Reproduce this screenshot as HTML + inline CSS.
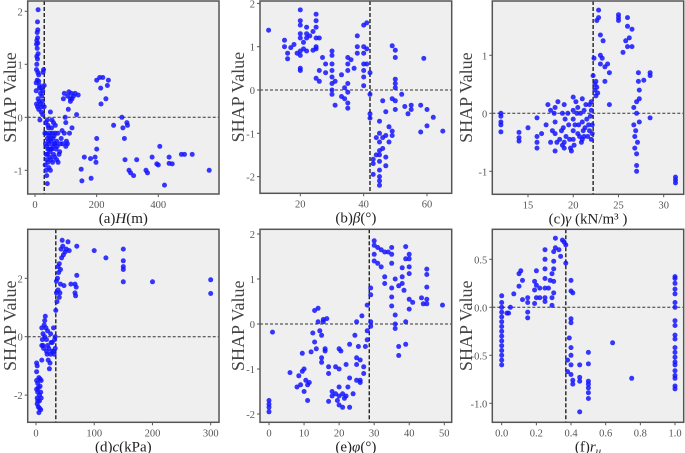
<!DOCTYPE html>
<html><head><meta charset="utf-8"><style>
body{margin:0;background:#fff}
svg{display:block;font-family:"Liberation Serif",serif}
</style></head><body>
<svg id="chart" width="685" height="453" viewBox="0 0 685 453" xmlns="http://www.w3.org/2000/svg"></svg>
<script>
// ---- data (feature value, SHAP value) ----
const dataH=[[10,2.03],[8,1.8],[9,1.65],[7,1.6],[8,1.5],[6,1.45],[9,1.4],[5,1.38],[7,1.3],[10,1.2],[6,1.15],[8,1.1],[5,0.9],[9,0.85],[7,0.7],[4,0.65],[12,0.68],[15,0.6],[20,0.55],[25,0.5],[18,0.45],[22,0.4],[10,0.35],[14,0.3],[5,0.25],[8,0.2],[12,0.15],[20,0.1],[25,0.05],[16,-0.05],[28,0.9],[26,0.85],[30,0.6],[24,0.3],[30,0.2],[35,-0.1],[32,-0.3],[34,-0.5],[36,-0.7],[33,-0.9],[38,-1.1],[40,-1.25],[40,-0.4],[42,-0.6],[45,-0.5],[48,-0.3],[50,0.1],[52,-0.8],[55,-0.6],[44,-0.2],[58,-0.4],[60,-0.7],[62,-0.5],[65,-0.3],[68,-0.6],[70,-0.8],[72,-0.55],[75,-0.85],[78,-0.7],[55,-0.05],[60,-0.1],[66,-0.15],[45,-0.95],[50,-1.0],[38,-0.8],[46,-0.35],[52,-0.45],[80,-0.65],[85,-0.4],[90,-0.5],[92,0.35],[95,0.45],[100,-0.1],[100,-0.55],[105,-0.5],[108,0.15],[110,0.48],[112,-0.3],[115,0.35],[118,0.45],[120,-0.2],[125,0.4],[130,0.45],[135,0.05],[140,0.42],[95,-0.3],[88,-0.25],[115,0.3],[150,-0.98],[152,-1.2],[160,-0.75],[180,-0.78],[182,-1.15],[195,-0.75],[198,-0.85],[200,-0.4],[200,-0.6],[200,0.7],[210,0.75],[213,0.55],[214,0.25],[220,0.75],[230,0.35],[235,0.6],[238,0.7],[255,-0.15],[282,0],[285,-0.2],[290,-0.4],[292,-0.8],[298,-0.1],[300,-0.15],[305,-1.0],[310,-1.05],[320,-1.1],[330,-0.8],[360,-1.0],[365,-1.05],[380,-0.75],[395,-0.88],[400,-0.9],[405,-0.55],[420,-1.28],[435,-0.75],[435,-0.87],[445,-0.88],[475,-0.7],[485,-0.7],[510,-0.7],[565,-1.0],[6,1.0],[4,0.5],[12,0.8],[40,-0.7],[44,-0.45],[48,-0.65],[36,-0.3],[42,-0.15],[56,-0.3],[64,-0.75],[38,-0.55],[42,-0.85],[46,-0.6],[50,-0.4],[54,-0.2],[58,-0.55],[62,-0.35],[66,-0.5],[70,-0.45],[40,-0.05],[36,-1.0],[48,-0.75],[52,-0.6],[57,-0.85],[74,-0.3],[82,-0.5],[102,-0.45],[98,0.0],[106,0.4],[120,0.35],[18,0.25],[22,0.2],[14,0.55]];
const dataBeta=[[10,1.38],[15,1.15],[15,1.0],[16,0.85],[16,0.72],[17,0.98],[18,1.05],[19,0.85],[20,1.85],[20,1.6],[20,1.5],[20,1.3],[20,1.2],[20,0.9],[20,0.8],[20,0.5],[20,0.45],[21,0.95],[21,1.1],[22,1.45],[22,1.3],[22,1.2],[22,0.9],[23,1.25],[24,1.35],[24,0.92],[25,1.75],[25,1.6],[25,1.45],[25,1.2],[25,1.0],[25,0.95],[25,0.27],[26,0.45],[26,0.2],[26,1.2],[27,0.75],[28,0.6],[28,0.4],[30,0.9],[30,0.8],[30,0.6],[30,0.45],[30,0.3],[30,0.15],[30,0],[30,-0.1],[31,0.2],[31,-0.35],[33,0.35],[33,-0.15],[34,0.05],[34,-0.2],[35,0.75],[35,0.6],[35,0.45],[35,0.15],[35,-0.05],[35,-0.3],[35,-0.42],[36,0.7],[37,0.5],[38,1.25],[38,1.0],[38,0.85],[40,1.5],[40,1.0],[40,0.85],[40,0.6],[40,0.45],[40,0.3],[40,0.1],[41,1.55],[41,0.95],[41,0.6],[42,0.4],[42,-0.1],[42,-0.55],[42,-0.65],[43,-1.6],[43,-1.7],[43,-1.95],[44,-1.5],[44,-1.1],[45,-0.72],[45,-1.0],[45,-1.2],[45,-1.4],[45,-1.5],[45,-1.65],[45,-1.85],[45,-2.0],[45,-2.1],[45,-2.2],[46,-1.1],[46,-1.35],[46,-0.25],[47,-0.5],[47,-1.05],[47,-1.55],[47,-1.75],[48,-0.85],[48,-1.2],[49,1.02],[49,-0.95],[49,-1.05],[49,-0.2],[50,0.92],[50,0.75],[50,0.25],[50,0.15],[50,0.05],[50,-0.25],[50,-0.45],[52,-0.1],[53,-0.38],[54,-0.55],[55,-0.35],[55,-0.45],[58,-0.35],[58,-0.97],[59,0.73],[60,-0.45],[60,-0.83],[62,-0.63],[65,-0.95]];
const dataGamma=[[12,0],[12,-0.05],[12,-0.15],[12,-0.2],[12,-0.32],[14,-0.33],[14,-0.42],[14,-0.48],[15,-0.25],[16,-0.08],[16,-0.4],[16,-0.5],[16,-0.6],[16.5,-0.35],[17,-0.2],[17.2,0.15],[17.5,0.05],[17.5,-0.5],[17.7,-0.3],[18,0.1],[18,-0.15],[18,-0.35],[18,-0.65],[18.3,0.2],[18.5,-0.45],[18.7,-0.3],[18.8,-0.55],[18.8,0],[19,0.15],[19,-0.5],[19,-0.6],[19.2,-0.4],[19.5,-0.2],[19.7,-0.6],[19.8,-0.65],[20,0.28],[20,0.05],[20,-0.1],[20,-0.3],[20,-0.45],[20.2,-0.2],[20.3,0.2],[20.5,-0.35],[20.5,0.1],[20.7,-0.4],[20.8,0],[21,0.25],[21,-0.15],[21,-0.45],[21.2,0.05],[21.3,-0.25],[21.5,-0.1],[21.6,-0.4],[21.8,0.15],[21.8,-0.3],[22,0.05],[22,-0.45],[22,0.2],[22.1,-0.2],[22.2,0.65],[22.3,0.95],[22.4,0.5],[22.4,0.4],[22.5,0.3],[22.5,0.55],[22.6,1.6],[22.8,1.65],[22.8,1.78],[23,1.35],[23,1.0],[23,0.85],[23.2,0.95],[23.3,1.25],[23.5,0.8],[23.5,0.55],[23.8,0.85],[24,0.15],[24,0.7],[25,1.7],[25,1.65],[25,1.6],[25.5,1.05],[25.8,1.25],[26,1.65],[26,1.5],[26,1.15],[26.2,1.3],[26.5,1.45],[26.5,1.15],[26.7,0.1],[26.7,-0.2],[26.8,-0.4],[26.8,-0.6],[27,0.2],[27,0],[27,-0.7],[27,-1.0],[27,-0.9],[27.2,0.7],[27.2,0.55],[27.3,0.4],[27.3,0.25],[27.3,-0.15],[27.8,0.57],[28.5,0.7],[28.5,0.65],[28.5,-0.08],[31.3,-1.1],[31.3,-1.15],[31.3,-1.2],[18.2,-0.5],[18.9,-0.25],[19.4,0.0],[19.6,-0.45],[20.1,-0.55],[20.6,-0.2],[21.1,-0.3],[21.4,0.15],[21.7,-0.2],[21.9,-0.05],[22.1,-0.35],[20.9,-0.5],[19.1,-0.1],[17.9,0.0],[20.4,0.0],[21.2,-0.4],[26.9,-0.3],[27.1,-0.5],[22.6,0.45],[22.7,0.35]];
const dataC=[[1,-0.9],[1,-1.2],[1,-1.5],[1,-1.8],[2,-2.1],[2,-2.3],[3,-1.6],[3,-1.9],[4,-2.4],[5,-2.6],[5,-1.4],[6,-2.0],[6,-2.2],[7,-1.7],[8,-2.5],[9,-1.5],[9,-2.1],[10,-0.8],[10,-0.3],[10,0.3],[11,-0.1],[12,0.1],[13,-0.4],[14,0.4],[15,0.55],[16,0.7],[17,0.3],[18,-0.1],[18,-0.5],[20,0.2],[20,-0.3],[21,-0.8],[22,-0.4],[23,-1.1],[24,-0.9],[25,-0.6],[25,0.1],[27,-0.5],[28,-0.2],[30,0.3],[31,-0.6],[32,-0.1],[33,-0.4],[34,0.9],[35,1.5],[35,1.9],[36,1.2],[37,2.0],[38,1.6],[39,2.2],[40,1.35],[40,2.5],[42,1.8],[42,2.3],[43,3.0],[44,2.7],[45,3.3],[46,3.1],[47,2.8],[48,1.75],[50,2.9],[52,3.0],[55,3.25],[57,2.95],[60,1.8],[67,1.8],[67,1.5],[68,1.4],[69,1.7],[70,2.1],[70,3.1],[100,2.95],[120,2.7],[150,3.0],[150,2.6],[150,2.4],[150,2.3],[150,1.88],[200,1.88],[300,1.95],[300,1.48],[2,-1.0],[3,-2.2],[4,-1.75],[6,-2.45],[7,-1.45],[8,-1.9],[12,-0.3],[15,0.0],[19,-0.6],[26,-0.2],[30,-0.5],[33,0.0],[38,2.4],[41,1.5]];
const dataPhi=[[0,-1.7],[0,-1.78],[0,-1.85],[0,-1.95],[1,-0.18],[6,-1.08],[8,-1.4],[8.5,-1.15],[9,-1.35],[9.5,-1.05],[9.5,-0.65],[10,-1.5],[10,-1.0],[10.5,-1.25],[11,-1.35],[11,-1.7],[11.5,-1.3],[12,-0.62],[12.5,-0.2],[13,-0.4],[13,0.3],[13.5,-0.55],[14,0.35],[14,0.05],[14.5,-0.15],[15,-0.25],[15,-0.75],[15,-0.85],[15.5,0.05],[15.5,0.1],[16,-0.55],[16,-0.6],[16.5,0.12],[17,-0.95],[17,-1.1],[17,-1.72],[18,-1.5],[18,-1.6],[19,-0.95],[19,-1.55],[19.5,-1.7],[20,-0.55],[20,-1.0],[20,-1.4],[20,-1.6],[20,-1.8],[20.5,-0.6],[21,-1.55],[21,-1.85],[21.5,-1.65],[22,-0.9],[22,-1.6],[22.5,-1.4],[23,-0.45],[23,-1.2],[23,-1.85],[24,-1.55],[24.5,-0.25],[25,0.05],[25,-0.75],[25,-0.9],[25,-1.25],[25.5,-0.5],[26,-0.8],[26,-1.25],[26,-1.3],[26.5,0.18],[27,-0.95],[27,-1.1],[27.5,-0.5],[28,0.42],[28,-0.15],[28,-0.35],[29,0.8],[29,0.65],[29,0.05],[29,-0.05],[30,1.75],[30,1.85],[30,1.55],[30,1.4],[31,1.7],[31,1.35],[32,1.65],[32,1.27],[33,1.6],[33,1.05],[33,0.9],[34,1.6],[35,1.7],[35,1.55],[35,1.35],[35,0.8],[35,0.6],[35,0.4],[36,1.0],[36,0.2],[36,0],[36,-0.1],[37,0.85],[37,-0.5],[37,-0.7],[38,1.25],[38,1.05],[38,0.9],[38.5,0.75],[39,1.72],[39,1.45],[39,0.05],[39,-0.45],[40,1.55],[40,1.45],[40,1.27],[40,1.12],[40,0.55],[40,0.33],[41,0.48],[43.5,0.58],[44,0.45],[45,1.22],[45,1.1],[45,0.82],[45,0.55],[45,0.45],[49.5,0.42]];
const dataRu=[[0,0.12],[0,0.05],[0,0],[0,-0.05],[0,-0.1],[0,-0.15],[0,-0.2],[0,-0.25],[0,-0.3],[0,-0.35],[0,-0.4],[0,-0.45],[0,-0.5],[0,-0.55],[0,-0.6],[0.03,-0.06],[0.04,-0.06],[0.05,0],[0.07,0.14],[0.1,0.22],[0.1,0.35],[0.11,0.38],[0.12,0.08],[0.12,0.28],[0.15,0.1],[0.15,0.05],[0.15,-0.05],[0.15,-0.11],[0.19,0.27],[0.19,0.18],[0.19,0.04],[0.2,0.38],[0.2,0.23],[0.2,0.1],[0.22,0.2],[0.22,0.1],[0.25,0.6],[0.25,0.5],[0.25,0.4],[0.25,0.3],[0.25,0.2],[0.25,0.1],[0.25,0.06],[0.27,0.2],[0.28,0.28],[0.29,0.35],[0.29,0.1],[0.29,0.02],[0.3,0.58],[0.3,0.48],[0.3,0.4],[0.3,0.27],[0.3,0.15],[0.31,0.72],[0.31,0.62],[0.33,0.6],[0.34,0.53],[0.35,0.7],[0.36,0.68],[0.37,0.65],[0.37,0.46],[0.38,-0.55],[0.38,-0.67],[0.39,-0.32],[0.4,0.28],[0.4,0.17],[0.4,-0.12],[0.4,-0.16],[0.4,-0.42],[0.4,-0.5],[0.4,-0.6],[0.4,-0.7],[0.41,-0.76],[0.41,-0.8],[0.41,0.15],[0.45,-0.6],[0.45,-0.73],[0.45,-0.77],[0.45,-1.09],[0.5,-0.47],[0.5,-0.59],[0.5,-0.77],[0.5,-0.8],[0.5,-0.84],[0.5,-0.89],[0.5,-0.95],[0.64,-0.37],[0.75,-0.74],[1,0.32],[1,0.3],[1,0.25],[1,0.19],[1,0.14],[1,0.05],[1,0],[1,-0.14],[1,-0.19],[1,-0.29],[1,-0.33],[1,-0.42],[1,-0.47],[1,-0.52],[1,-0.57],[1,-0.6],[1,-0.66],[1,-0.71],[1,-0.74],[1,-0.82],[1,-0.85]];
// tick labels
const ticksXa=[0,200,400], ticksYa=[-1,0,1,2];
const ticksXb=[20,40,60], ticksYb=[-2,-1,0,1,2];
const ticksXc=[15,20,25,30], ticksYc=[-1,0,1];
const ticksXd=[0,100,200,300], ticksYd=[-2,0,2];
const ticksXe=[0,10,20,30,40,50], ticksYe=[-2,-1,0,1,2];
const ticksXf=[0,0.2,0.4,0.6,0.8,1.0], ticksYf=[-1.0,-0.5,0.0,0.5];
const cutoffs=[30,42,22.2,34,28.6,0.37];

const panels=[
 {id:'a',data:dataH,tx:ticksXa,ty:ticksYa,fmt:v=>String(v),L:27.7,R:219,T:1,B:194,x0:[0,35],x1:[400,158.3],y0:[0,117.3],y1:[1,64.3],lab:['(a)','H','(m)'],ylx:10},
 {id:'b',data:dataBeta,tx:ticksXb,ty:ticksYb,fmt:v=>String(v),L:260,R:451.7,T:1,B:193.3,x0:[20,300.3],x1:[60,427],y0:[0,90],y1:[1,46.7],lab:['(b)','β','(°)'],ylx:238},
 {id:'c',data:dataGamma,tx:ticksXc,ty:ticksYc,fmt:v=>String(v),L:492.3,R:683.7,T:1,B:194.3,x0:[15,528],x1:[30,663.7],y0:[0,113.3],y1:[1,55.3],lab:['(c)','γ',' (kN/m³ )'],ylx:466},
 {id:'d',data:dataC,tx:ticksXd,ty:ticksYd,fmt:v=>String(v),L:27.7,R:219,T:229.3,B:422.3,x0:[0,36],x1:[300,210.7],y0:[0,336.7],y1:[2,278.3],lab:['(d)','c','(kPa)'],ylx:10},
 {id:'e',data:dataPhi,tx:ticksXe,ty:ticksYe,fmt:v=>String(v),L:260,R:451.7,T:229.3,B:422.3,x0:[0,269],x1:[50,444.3],y0:[0,324],y1:[1,279],lab:['(e)','φ','(°)'],ylx:238},
 {id:'f',data:dataRu,tx:ticksXf,ty:ticksYf,fmt:v=>v.toFixed(1),L:492.3,R:683.7,T:229.3,B:422.3,x0:[0,501.7],x1:[1,675],y0:[0,307.3],y1:[0.5,259.3],lab:['(f)','r','u'],ylx:466}
];
const NS='http://www.w3.org/2000/svg';
const svg=document.getElementById('chart');
function mk(tag,attrs,parent){const e=document.createElementNS(NS,tag);for(const k in attrs)e.setAttribute(k,attrs[k]);(parent||svg).appendChild(e);return e;}
panels.forEach((p,i)=>{
  const sx=v=>p.x0[1]+(v-p.x0[0])*(p.x1[1]-p.x0[1])/(p.x1[0]-p.x0[0]);
  const sy=v=>p.y0[1]+(v-p.y0[0])*(p.y1[1]-p.y0[1])/(p.y1[0]-p.y0[0]);
  const g=mk('g',{});
  
  
  const bg=mk('rect',{x:p.L,y:p.T,width:p.R-p.L,height:p.B-p.T,fill:'#efefef'},g);
  
  
  const h=mk('line',{x1:p.L,x2:p.R,y1:sy(0),y2:sy(0),stroke:'#333','stroke-width':1,'stroke-dasharray':'3,2'},g);
  
  
  const vx=sx(cutoffs[i]);
  const v=mk('line',{x1:vx,x2:vx,y1:p.T,y2:p.B,stroke:'#222','stroke-width':1.4,'stroke-dasharray':'4,2'},g);
  
  
  const dots=mk('g',{fill:'#1414ff','fill-opacity':0.85},g);
  
  
  p.data.forEach(d=>{
    const c=mk('circle',{cx:sx(d[0]).toFixed(1),cy:sy(d[1]).toFixed(1),r:2.5},dots);
    
    
  });
  const fr=mk('rect',{x:p.L,y:p.T,width:p.R-p.L,height:p.B-p.T,fill:'none',stroke:'#555','stroke-width':1.5},g);
  
  
  p.tx.forEach(t=>{
    const x=sx(t);
    const tk=mk('line',{x1:x,x2:x,y1:p.B,y2:p.B+3,stroke:'#555'},g);
    
    
    const tl=mk('text',{x:x,y:p.B+14,'text-anchor':'middle','font-size':10.5,fill:'#555'},g);
    tl.textContent=p.fmt(t);
    
    
  });
  p.ty.forEach(t=>{
    const y=sy(t);
    const tk=mk('line',{x1:p.L-3,x2:p.L,y1:y,y2:y,stroke:'#555'},g);
    
    
    const tl=mk('text',{x:p.L-5,y:y+4,'text-anchor':'end','font-size':10.5,fill:'#555'},g);
    tl.textContent=p.fmt(t);
    
    
  });
  const cy=(p.T+p.B)/2;
  const yl=mk('text',{x:p.ylx,y:cy,'text-anchor':'middle','font-size':18,fill:'#444',transform:`rotate(-90 ${p.ylx} ${cy})`,dy:6},g);
  yl.textContent='SHAP Value';
  
  
  const xl=mk('text',{x:(p.L+p.R)/2,y:p.B+29,'text-anchor':'middle','font-size':15,fill:'#222'},g);
  
  
  const t1=mk('tspan',{},xl);t1.textContent=p.lab[0];
  const t2=mk('tspan',{'font-style':'italic'},xl);t2.textContent=p.lab[1];
  const t3=mk('tspan',p.id==='f'?{'font-style':'italic','font-size':11,dy:3}:{},xl);t3.textContent=p.lab[2];
});
</script>
</body></html>
